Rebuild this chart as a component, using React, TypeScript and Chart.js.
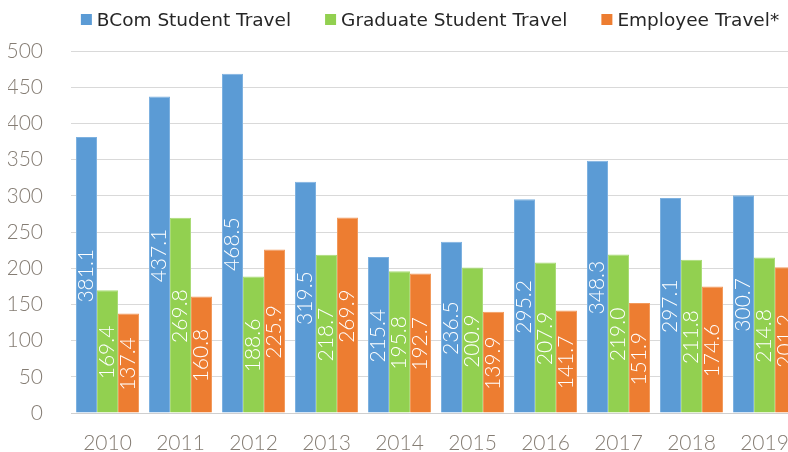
import React, { useEffect, useRef } from "react";
import { Chart, registerables } from "chart.js";

Chart.register(...registerables);

const years = ["2010", "2011", "2012", "2013", "2014", "2015", "2016", "2017", "2018", "2019"];
const bcomTravel = [381.1, 437.1, 468.5, 319.5, 215.4, 236.5, 295.2, 348.3, 297.1, 300.7];
const gradTravel = [169.4, 269.8, 188.6, 218.7, 195.8, 200.9, 207.9, 219.0, 211.8, 214.8];
const employeeTravel = [137.4, 160.8, 225.9, 269.9, 192.7, 139.9, 141.7, 151.9, 174.6, 201.2];
const seriesNames = ["BCom Student Travel", "Graduate Student Travel", "Employee Travel*"];
const seriesColors = ["#5B9BD5", "#92D050", "#ED7D31"];
const seriesEdges = ["#7DB1E0", "#A9DB76", "#F29A5C"];

const AXIS_FONT = "Lato";
const AXIS_COLOR = "#857D74";

const valueLabels = {
  id: "valueLabels",
  afterDatasetsDraw(chart: any) {
    const ctx = chart.ctx;
    ctx.save();
    ctx.font = `300 21px ${AXIS_FONT}`;
    ctx.fillStyle = "#ffffff";
    ctx.textAlign = "center";
    ctx.textBaseline = "middle";
    chart.data.datasets.forEach((ds: any, i: number) => {
      const meta = chart.getDatasetMeta(i);
      meta.data.forEach((bar: any, j: number) => {
        const p = bar.getProps(["x", "y", "base"], true);
        ctx.save();
        ctx.translate(p.x, (p.y + p.base) / 2 + 1);
        ctx.rotate(-Math.PI / 2);
        ctx.fillText(Number(ds.data[j]).toFixed(1), 0, 0);
        ctx.restore();
      });
    });
    ctx.restore();
  },
};

const customLegend = {
  id: "customLegend",
  afterDraw(chart: any) {
    const ctx = chart.ctx;
    ctx.save();
    ctx.font = "18.5px 'DejaVu Sans'";
    ctx.textBaseline = "middle";
    ctx.textAlign = "left";
    const box = 11;
    const gapText = 5;
    const gapItem = 34;
    const widths = chart.data.datasets.map((ds: any) => ctx.measureText(ds.label).width);
    const total =
      widths.reduce((a: number, w: number) => a + box + gapText + w, 0) + gapItem * (widths.length - 1);
    const cx = 430;
    const cy = 20;
    let x = cx - total / 2;
    chart.data.datasets.forEach((ds: any, i: number) => {
      ctx.fillStyle = ds.backgroundColor;
      ctx.fillRect(x, cy - box / 2 - 0.5, box, box);
      ctx.fillStyle = "#262626";
      ctx.fillText(ds.label, x + box + gapText, cy + 1);
      x += box + gapText + widths[i] + gapItem;
    });
    ctx.restore();
  },
};

export default function App() {
  const ref = useRef<HTMLCanvasElement | null>(null);

  useEffect(() => {
    if (!ref.current) return;
    const chart = new Chart(ref.current, {
      type: "bar",
      data: {
        labels: years,
        datasets: [
          { label: seriesNames[0], data: bcomTravel, backgroundColor: seriesColors[0], borderColor: seriesEdges[0] },
          { label: seriesNames[1], data: gradTravel, backgroundColor: seriesColors[1], borderColor: seriesEdges[1] },
          { label: seriesNames[2], data: employeeTravel, backgroundColor: seriesColors[2], borderColor: seriesEdges[2] },
        ],
      },
      options: {
        responsive: false,
        animation: false,
        devicePixelRatio: 1,
        layout: { padding: { top: 51, left: 8, right: 9, bottom: 0 } },
        datasets: {
          bar: { categoryPercentage: 0.863, barPercentage: 1.0, borderWidth: 1 },
        },
        plugins: {
          legend: { display: false },
          tooltip: { enabled: false },
        },
        scales: {
          x: {
            grid: { display: false, drawTicks: false },
            border: { display: false },
            ticks: {
              color: AXIS_COLOR,
              font: { family: AXIS_FONT, size: 21, weight: "300" },
              padding: 18,
              maxRotation: 0,
            },
            afterFit: (s: any) => {
              s.height = 47;
            },
          },
          y: {
            min: 0,
            max: 500,
            ticks: {
              stepSize: 50,
              color: AXIS_COLOR,
              font: { family: AXIS_FONT, size: 21, weight: "300" },
              padding: 28,
            },
            grid: {
              color: (c: any) => (c.tick && c.tick.value === 0 ? "#CFCFCF" : "#D9D9D9"),
              lineWidth: 1,
              drawTicks: false,
            },
            border: { display: false },
            afterFit: (s: any) => {
              s.width = 63;
            },
          },
        },
      },
      plugins: [valueLabels, customLegend],
    });
    return () => chart.destroy();
  }, []);

  return (
    <div
      style={{
        position: "fixed",
        left: 0,
        top: 0,
        width: 788,
        height: 452,
        overflow: "hidden",
        background: "#ffffff",
      }}
    >
      <canvas ref={ref} width={810} height={460} style={{ display: "block", width: 810, height: 460 }} />
    </div>
  );
}
